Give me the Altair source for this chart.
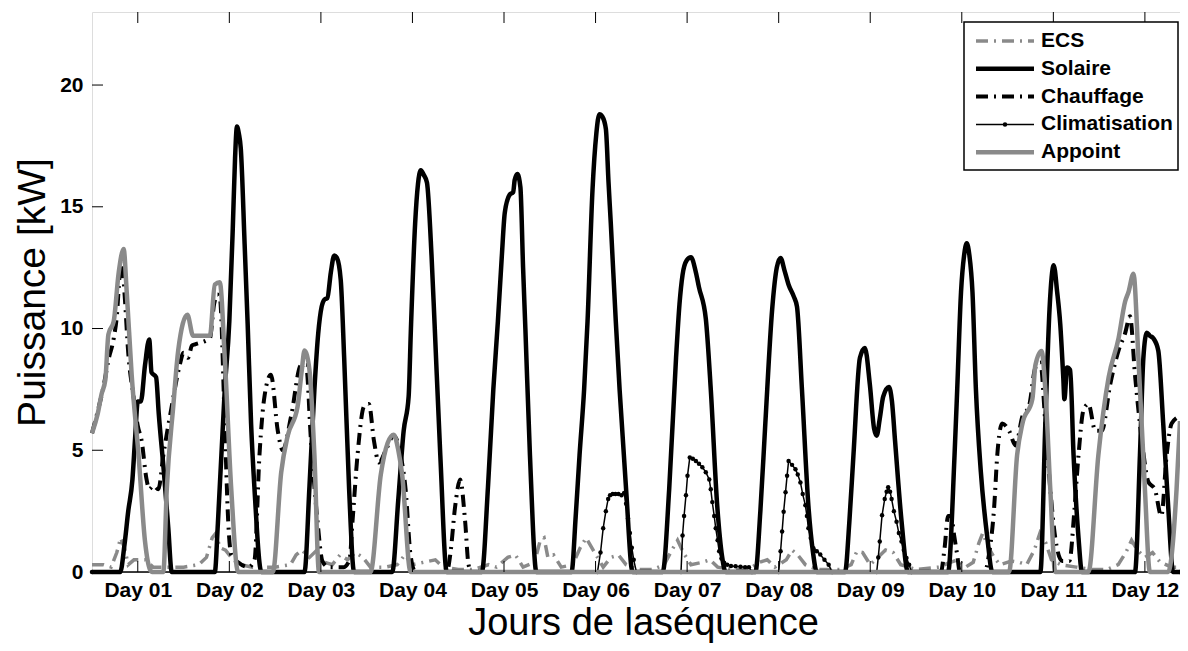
import altair as alt
import pandas as pd

# ---------------- data (hours since start, kW) ----------------
day_ticks = [12, 36, 60, 84, 108, 132, 156, 180, 204, 228, 252, 276]
day_labels = ["Day 01", "Day 02", "Day 03", "Day 04", "Day 05", "Day 06",
              "Day 07", "Day 08", "Day 09", "Day 10", "Day 11", "Day 12"]
y_ticks = [0, 5, 10, 15, 20]

ecs_hours = [0, 3, 5, 6.5, 7.5, 8.5, 9.5, 11, 14, 16, 20, 24, 28, 30, 31.5, 32.5, 33.5, 35, 37, 39,
             42, 48, 52, 53.5, 55, 57, 59, 61, 63, 65, 67, 69, 71, 73, 77, 80, 82, 84, 87, 90,
             92, 96, 100, 104, 106, 109, 111, 113, 116, 117.5, 118.5, 119.5, 121, 123, 126, 128,
             129.5, 131, 132.5, 134, 136, 138, 140, 143, 147, 150, 152, 153.5, 155, 157, 160, 162,
             164, 168, 172, 175, 177, 179, 182, 183.5, 185, 187, 190, 196, 199, 200.5, 202, 204,
             206, 208, 210, 212, 216, 222, 225, 227, 229, 231, 232.5, 233.5, 235, 236.5, 238, 241,
             243, 245, 247, 248.5, 250, 251.5, 254, 258, 262, 266, 269, 271, 272.5, 274, 276, 278,
             280, 283, 285.2]
ecs_kw = [0.3, 0.3, 0.2, 0.8, 1.4, 1.0, 0.3, 0.5, 0.5, 0.2, 0.2, 0.2, 0.3, 0.6, 1.4, 1.6, 1.0, 0.9, 0.5, 0.3,
          0.2, 0.2, 0.3, 0.7, 0.9, 0.6, 0.9, 0.4, 0.3, 0.7, 0.5, 0.8, 0.6, 0.2, 0.2, 0.3, 0.7, 0.3, 0.4, 0.5,
          0.2, 0.1, 0.1, 0.3, 0.2, 0.6, 0.7, 0.2, 0.4, 1.3, 1.4, 0.6, 0.7, 0.2, 0.3, 1.0,
          1.4, 1.0, 0.6, 0.2, 0.6, 0.7, 0.3, 0.1, 0.1, 0.3, 0.9, 1.3, 0.8, 0.3, 0.4, 0.5,
          0.2, 0.1, 0.1, 0.4, 0.5, 0.2, 0.5, 0.9, 0.7, 0.3, 0.1, 0.1, 0.3, 0.85, 0.8, 0.3,
          0.6, 0.9, 0.8, 0.3, 0.1, 0.2, 0.4, 0.5, 0.2, 0.4, 1.2, 1.6, 1.0, 0.6, 0.3, 0.45,
          0.4, 0.3, 0.9, 1.6, 1.2, 0.5, 0.3, 0.2, 0.1, 0.1, 0.3, 0.8, 1.3, 0.9, 0.6, 0.8,
          0.4, 0.2, 0.2]

sol_hours = [0, 7.4, 8.5, 9.5, 10.6, 11.3, 12.0, 12.8, 13.9, 15.0, 15.6, 16.8, 17.5, 18.9, 20.0, 20.9,
             32.2, 33.0, 34.8, 36.0, 36.9, 37.5, 38.0, 38.5, 39.0, 40.0, 40.8, 41.7, 42.6, 44.4,
             55.7, 57.0, 58.3, 59.3, 60.2, 61.0, 61.7, 62.6, 63.5, 64.2, 65.2, 66.1, 67.4, 68.7,
             78.7, 80.3, 81.7, 83.0, 83.6, 84.7, 86.2, 87.0, 87.8, 89.0, 89.8, 91.3, 93.0,
             102.2, 103.8, 105.2, 106.4, 107.4, 108.2, 109.5, 110.4, 110.8, 111.5, 112.3, 113.0, 113.6, 114.8, 116.5,
             125.7, 126.8, 127.8, 129.0, 129.9, 131.2, 132.2, 133.0, 133.8, 134.7, 135.4, 136.0, 137.3, 138.3, 140.0, 141.7,
             149.6, 151.3, 153.1, 154.0, 154.8, 155.9, 157.0, 158.3, 159.1, 160.9, 162.2, 163.9, 165.2, 166.1,
             173.9, 175.2, 176.5, 178.3, 179.5, 180.5, 181.5, 182.6, 184.0, 184.8, 186.1, 187.8, 189.0, 190.0,
             197.4, 198.5, 199.6, 201.3, 202.6, 203.9, 205.0, 205.7, 206.5, 207.4, 208.9, 209.7, 210.5, 212.2, 213.9,
             224.4, 226.1, 226.8, 227.8, 228.6, 229.3, 230.0, 230.8, 231.7, 233.0, 234.7, 236.0,
             248.6, 249.9, 251.0, 252.1, 253.0, 253.8, 254.6, 254.9, 255.6, 256.4, 257.3, 258.6, 259.5,
             273.4, 274.7, 275.6, 276.5, 277.3, 278.2, 279.5, 280.8, 282.1, 283.4, 285.2]
sol_kw = [0, 0, 1.1, 2.5, 3.8, 5.5, 7.0, 7.0, 8.5, 9.55, 8.2, 8.0, 6.5, 4.0, 1.8, 0,
          0, 2.0, 7.5, 10.3, 14.1, 17.0, 18.3, 18.0, 17.4, 13.5, 10.2, 6.1, 3.4, 0,
          0, 3.5, 7.5, 9.8, 10.9, 11.2, 11.25, 12.3, 13.0, 12.9, 12.0, 8.8, 3.4, 0,
          0, 3.0, 5.8, 7.2, 10.0, 14.3, 16.5, 16.3, 16.0, 13.0, 10.2, 4.8, 0,
          0, 3.5, 7.5, 10.3, 12.9, 14.75, 15.5, 15.6, 16.1, 16.35, 15.8, 12.5, 10.0, 4.8, 0,
          0, 2.3, 4.8, 7.5, 10.3, 15.7, 18.0, 18.8, 18.7, 18.2, 16.0, 14.3, 10.3, 7.5, 3.4, 0,
          0, 3.4, 8.8, 11.0, 12.2, 12.8, 12.93, 12.3, 11.7, 10.4, 7.5, 2.7, 0.6, 0,
          0, 2.5, 6.1, 10.8, 12.5, 12.9, 12.4, 11.8, 11.3, 10.9, 7.5, 2.7, 0.8, 0,
          0, 2.0, 4.8, 8.8, 9.2, 7.7, 5.9, 5.6, 6.3, 7.2, 7.6, 7.0, 5.4, 2.1, 0,
          0, 4.8, 7.5, 11.5, 13.0, 13.5, 13.0, 11.5, 7.5, 4.1, 1.4, 0,
          0, 6.1, 10.8, 12.6, 11.5, 10.2, 8.0, 7.1, 8.4, 8.3, 4.8, 1.4, 0,
          0, 4.8, 8.8, 9.83, 9.7, 9.6, 9.1, 6.1, 2.7, 0, 0]

chauf_hours = [0, 1.5, 3.0, 4.3, 5.7, 6.5, 7.3, 7.8, 8.5, 9.5, 10.9, 12.0, 13.0, 14.3, 15.0, 16.1, 17.4,
               18.7, 20.9, 23.0, 24.0, 25.2, 26.2, 27.0, 30.9, 32.0, 32.9, 33.5, 34.8, 35.7, 36.5,
               38.3, 41.0, 42.6, 43.9, 45.2, 46.9, 48.7, 50.0, 52.2, 54.8, 56.1, 57.4, 59.1, 60.4,
               62.0, 66.0, 67.5, 68.3, 69.6, 71.3, 72.6, 73.9, 75.2, 77.0, 79.1, 80.9, 82.2, 83.5,
               84.8, 93.0, 93.9, 95.2, 96.5, 97.8, 98.7, 99.5, 222.5, 223.5, 224.4, 225.2, 226.0,
               226.8, 227.5, 234.0, 235.1, 236.5, 237.3, 238.6, 240.4, 242.1, 243.9, 245.6, 247.3,
               248.6, 249.9, 251.2, 252.5, 254.3, 256.2, 257.5, 258.6, 259.9, 261.2, 263.0, 264.7,
               266.9, 269.1, 270.8, 272.1, 273.4, 275.2, 276.9, 278.6, 280.3, 281.7, 283.0, 285.2]
chauf_kw = [5.7, 6.6, 7.6, 8.7, 9.6, 10.5, 12.3, 12.8, 11.5, 9.0, 7.2, 6.0, 5.4, 3.8, 3.4, 3.55, 3.4,
            4.8, 6.8, 8.5, 9.0, 8.8, 9.3, 9.35, 9.6, 11.0, 11.4, 11.3, 6.1, 2.1, 0.7,
            0.4, 0.2, 0.5, 4.8, 7.2, 8.1, 5.8, 5.0, 6.4, 8.5, 8.5, 5.4, 2.1, 0.45,
            0.2, 0.2, 0.5, 2.1, 4.8, 6.8, 6.9, 5.4, 4.5, 5.0, 5.6, 4.8, 3.4, 0.7,
            0, 0, 0.7, 2.7, 3.8, 2.1, 0.3, 0, 0, 1.0, 2.3, 2.3, 1.5,
            0.7, 0, 0, 0.7, 2.7, 4.8, 6.1, 5.8, 5.2, 6.4, 6.8, 8.4,
            8.6, 6.1, 3.4, 1.4, 0.45, 0.45, 2.5, 4.8, 6.65, 6.9, 5.8, 5.8,
            7.7, 9.1, 9.8, 10.5, 8.1, 5.4, 3.7, 3.4, 2.3, 4.8, 6.1, 6.4]

clim_hours = [0, 132.5, 133.3, 134.0, 134.7, 135.3, 135.8, 136.5, 137.2, 138.0, 138.8, 139.5, 140.0,
              140.5, 141.0, 141.5, 142.0, 142.7,
              154.4, 154.8, 155.2, 155.7, 156.1, 156.7, 157.5, 158.3, 159.1, 160.0, 160.9, 161.8,
              162.2, 162.6, 163.1, 163.5, 164.0, 164.4, 165.0, 165.7, 166.5, 167.5, 168.7, 170.0,
              171.2, 172.2, 173.0,
              180.0, 180.5, 180.9, 181.3, 181.8, 182.2, 182.6, 183.5, 184.4, 185.0, 185.7, 186.3,
              187.0, 187.4, 187.8, 188.4, 189.1, 190.0, 190.9, 192.0, 193.1, 194.0,
              205.7, 206.1, 206.5, 207.1, 207.8, 208.3, 208.7, 209.2, 209.6, 210.2, 210.9, 211.5,
              212.2, 212.8, 213.5, 214.2, 214.8, 285.2]
clim_kw = [0, 0, 0.8, 1.8, 2.5, 3.0, 3.15, 3.2, 3.2, 3.2, 3.15, 3.25, 2.8,
           2.2, 1.6, 1.0, 0.5, 0,
           0, 1.5, 2.3, 3.15, 3.95, 4.7, 4.65, 4.56, 4.45, 4.3, 4.1, 3.8,
           3.4, 2.87, 2.3, 1.8, 1.3, 0.85, 0.55, 0.38, 0.3, 0.25, 0.24, 0.22,
           0.2, 0.2, 0,
           0, 0.85, 1.66, 2.47, 3.28, 3.95, 4.56, 4.4, 4.22, 4.0, 3.68, 3.2,
           2.74, 2.3, 1.8, 1.4, 0.98, 0.85, 0.72, 0.5, 0.3, 0,
           0, 0.6, 1.25, 2.33, 3.0, 3.3, 3.48, 3.3, 3.0, 2.5, 2.06, 1.6,
           1.25, 0.9, 0.58, 0.3, 0, 0]

app_hours = [0, 1.5, 2.5, 3.5, 4.3, 5.7, 7.0, 8.3, 9.1, 10.4, 12.2, 13.9, 15.2, 15.8, 18.7, 19.6,
             21.3, 22.6, 25.0, 26.5, 30.9, 32.2, 33.5, 34.8, 36.5, 38.3, 47.4, 49.6, 51.3, 53.9,
             55.0, 55.7, 57.0, 58.3, 59.5, 73.0, 75.7, 77.5, 79.1, 80.3, 81.3, 83.5, 240.4, 242.5,
             243.9, 246.5, 247.3, 248.9, 249.9, 251.2, 252.5, 261.2, 263.8, 266.5, 269.1, 270.8,
             271.7, 273.0, 274.3, 276.0, 277.3, 282.1, 284.3, 285.2]
app_kw = [5.7, 6.5, 7.3, 7.9, 9.76, 10.3, 12.3, 13.27, 11.5, 8.1, 4.8, 1.25, 0.1, 0, 0, 3.4,
          6.8, 9.1, 10.57, 9.7, 9.7, 11.8, 11.9, 8.8, 3.4, 0, 0, 4.1, 5.6, 6.8,
          8.3, 9.1, 8.3, 4.8, 0, 0, 4.0, 5.3, 5.64, 5.0, 4.0, 0, 0, 4.8,
          6.1, 7.1, 8.5, 9.08, 7.5, 3.4, 0, 0, 4.8, 8.0, 9.6, 11.1,
          11.5, 12.25, 8.8, 3.4, 0, 0, 3.4, 6.2]

legend_names = ["ECS", "Solaire", "Chauffage", "Climatisation", "Appoint"]

# ---------------- styling / layout ----------------
W, H = 1088, 560
FONT = "Liberation Sans"
GRAY = "#8a8a8a"
DASHDOT = [12, 6, 2, 6]
X_MAX = 285.2
Y_MAX = 23

x_scale = alt.Scale(domain=[0, X_MAX], nice=False, zero=False)
y_scale = alt.Scale(domain=[0, Y_MAX], nice=False)

label_expr = "[" + ",".join(f"'{l}'" for l in day_labels) + "][round((datum.value - 12) / 24)]"

x_axis = alt.Axis(values=day_ticks, labelExpr=label_expr, ticks=False, domain=False, grid=False,
                  labelFont=FONT, labelFontSize=21, labelFontWeight="bold", labelColor="black",
                  labelPadding=7, labelBaseline="top",
                  titleFont=FONT, titleFontSize=38,
                  titleFontWeight="normal", titleColor="black", titleY=62, titleX=551,
                  titleBaseline="alphabetic", titleAlign="center")
y_axis = alt.Axis(values=y_ticks, ticks=False, domain=False, grid=False,
                  labelFont=FONT, labelFontSize=21, labelFontWeight="bold", labelColor="black",
                  labelPadding=9,
                  titleFont=FONT, titleFontSize=39,
                  titleFontWeight="normal", titleColor="black", titleX=-48, titleY=H / 2,
                  titleAngle=270, titleBaseline="alphabetic", titleAlign="center")

X_ENC = alt.X("h:Q", scale=x_scale, axis=x_axis, title="Jours de laséquence")
Y_ENC = alt.Y("kw:Q", scale=y_scale, axis=y_axis, title="Puissance [kW]")


def frame(hours, kw):
    return pd.DataFrame({"h": hours, "kw": kw})


def series(hours, kw, **mark):
    return alt.Chart(frame(hours, kw)).mark_line(clip=False, **mark).encode(
        x=X_ENC, y=Y_ENC, order="h:Q")


ecs = series(ecs_hours, ecs_kw, color=GRAY, strokeWidth=3.5, strokeDash=DASHDOT)
sol = series(sol_hours, sol_kw, color="black", strokeWidth=4.5, interpolate="monotone")
chauf = series(chauf_hours, chauf_kw, color="black", strokeWidth=4, strokeDash=DASHDOT,
               interpolate="monotone")
clim = series(clim_hours, clim_kw, color="black", strokeWidth=1.5,
              point=alt.OverlayMarkDef(filled=True, color="black", size=20))
app = series(app_hours, app_kw, color=GRAY, strokeWidth=4.5, interpolate="monotone")

# inward ticks (matlab style)
TL = 11
xt = pd.DataFrame({"h": day_ticks})
yt = pd.DataFrame({"kw": y_ticks})
xt_bot = alt.Chart(xt).mark_rule(color="black", strokeWidth=1).encode(
    x=X_ENC, y=alt.value(H), y2=alt.value(H - TL))
xt_top = alt.Chart(xt).mark_rule(color="black", strokeWidth=1).encode(
    x=X_ENC, y=alt.value(0), y2=alt.value(TL))
yt_left = alt.Chart(yt).mark_rule(color="black", strokeWidth=1).encode(
    y=Y_ENC, x=alt.value(0), x2=alt.value(TL))

# legend (drawn manually to reproduce line styles)
one = pd.DataFrame({"a": [0]})
LX0, LX1, LY0, LY1 = 872, 1086, 10, 158
LINE0, LINE1, TEXTX = 884, 942, 949
ROW0, ROWSTEP = 29, 27.8

legend_layers = [
    alt.Chart(one).mark_rect(fill="white", stroke="black", strokeWidth=1.5).encode(
        x=alt.value(LX0), x2=alt.value(LX1), y=alt.value(LY0), y2=alt.value(LY1))
]
styles = [
    dict(color=GRAY, strokeWidth=3.5, strokeDash=DASHDOT),
    dict(color="black", strokeWidth=4.5),
    dict(color="black", strokeWidth=4, strokeDash=DASHDOT),
    dict(color="black", strokeWidth=1.5),
    dict(color=GRAY, strokeWidth=4.5),
]
for i, (name, st) in enumerate(zip(legend_names, styles)):
    yy = ROW0 + i * ROWSTEP
    legend_layers.append(alt.Chart(one).mark_rule(**st).encode(
        x=alt.value(LINE0), x2=alt.value(LINE1), y=alt.value(yy)))
    legend_layers.append(alt.Chart(one).mark_text(
        text=name, align="left", baseline="middle", font=FONT, fontSize=21,
        fontWeight="bold", color="black").encode(x=alt.value(TEXTX), y=alt.value(yy)))
    if name == "Climatisation":
        legend_layers.append(alt.Chart(one).mark_point(
            filled=True, color="black", size=20, opacity=1).encode(
            x=alt.value((LINE0 + LINE1) / 2), y=alt.value(yy)))

chart = alt.layer(ecs, sol, chauf, clim, app, xt_bot, xt_top, yt_left, *legend_layers).properties(
    width=W, height=H,
    padding={"left": 84, "top": 4, "right": 0, "bottom": 71},
    autosize=alt.AutoSizeParams(type="none"),
).configure_view(stroke="black", strokeWidth=1.5).configure(background="white")

chart.save("out.html", embed_options={"renderer": "svg", "actions": False})
